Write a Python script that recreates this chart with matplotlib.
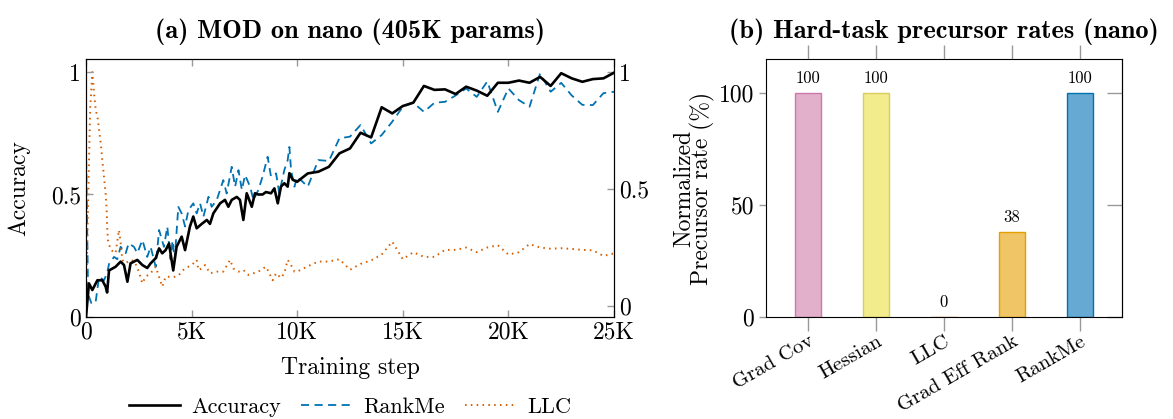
import matplotlib
matplotlib.use("Agg")
import matplotlib.pyplot as plt
from matplotlib.lines import Line2D

plt.rcParams['font.family'] = 'cmr10'
plt.rcParams['mathtext.fontset'] = 'cm'
plt.rcParams['axes.unicode_minus'] = False

# ---- data: panel (a) ----
acc_steps = [0, 140, 300, 540, 770, 930, 1000, 1090, 1400, 1640, 1800, 1960, 2110, 2430,
             2670, 2900, 3060, 3300, 3460, 3610, 3770, 3930, 4130, 4290, 4530, 4690, 4920,
             5080, 5240, 5480, 5720, 5870, 6030, 6350, 6580, 6740, 6900, 7140, 7290, 7450,
             7610, 7850, 8000, 8160, 8360, 8520, 8760, 8920, 9080, 9230, 9390, 9550, 9630,
             9790, 10000, 10500, 11000, 11500, 12000, 12500, 13000, 13500, 14000, 14500,
             15000, 15500, 16000, 16500, 17000, 17500, 18000, 18500, 19000, 19500, 20000,
             20500, 21000, 21500, 22000, 22500, 23000, 23500, 24000, 24500, 25000]
accuracy = [0.00, 0.137, 0.11, 0.15, 0.15, 0.124, 0.10, 0.19, 0.205, 0.226, 0.212, 0.144,
            0.219, 0.233, 0.212, 0.20, 0.219, 0.24, 0.28, 0.26, 0.273, 0.30, 0.19, 0.287,
            0.328, 0.273, 0.369, 0.41, 0.362, 0.38, 0.396, 0.38, 0.423, 0.464, 0.478, 0.45,
            0.478, 0.49, 0.478, 0.396, 0.505, 0.45, 0.505, 0.50, 0.50, 0.51, 0.505, 0.525,
            0.464, 0.532, 0.546, 0.532, 0.587, 0.56, 0.552, 0.586, 0.593, 0.613, 0.668,
            0.688, 0.752, 0.733, 0.856, 0.831, 0.861, 0.875, 0.943, 0.927, 0.929, 0.91,
            0.94, 0.924, 0.903, 0.956, 0.956, 0.965, 0.956, 0.98, 0.943, 0.995, 0.974,
            0.96, 0.971, 0.974, 0.997]

rm_steps = [0, 100, 250, 450, 620, 850, 1000, 1090, 1330, 1480, 1640, 1880, 2020, 2270,
            2430, 2670, 2900, 3060, 3300, 3460, 3690, 3850, 4000, 4100, 4200, 4370, 4530,
            4690, 4850, 5080, 5240, 5400, 5560, 5800, 5950, 6190, 6500, 6660, 6900, 7060,
            7220, 7380, 7530, 7770, 7930, 8160, 8360, 8600, 8760, 9000, 9150, 9390, 9550,
            9630, 9710, 9870, 10000, 10500, 11000, 11500, 12000, 12500, 13000, 13500,
            14000, 14500, 15000, 15500, 16000, 16500, 17000, 17500, 18000, 18500, 19000,
            19500, 20000, 20500, 21000, 21500, 22000, 22500, 23000, 23500, 24000, 24500,
            25000]
rankme = [0.68, 0.05, 0.013, 0.013, 0.125, 0.11, 0.14, 0.18, 0.21, 0.20, 0.253, 0.226,
          0.268, 0.253, 0.226, 0.282, 0.21, 0.253, 0.168, 0.325, 0.253, 0.339, 0.20, 0.28,
          0.20, 0.424, 0.396, 0.34, 0.41, 0.439, 0.396, 0.439, 0.382, 0.467, 0.424, 0.453,
          0.538, 0.481, 0.595, 0.51, 0.581, 0.496, 0.56, 0.51, 0.453, 0.496, 0.553, 0.638,
          0.553, 0.567, 0.482, 0.581, 0.624, 0.68, 0.581, 0.51, 0.553, 0.51, 0.624, 0.62,
          0.717, 0.724, 0.774, 0.695, 0.731, 0.788, 0.852, 0.869, 0.83, 0.869, 0.873, 0.90,
          0.93, 0.894, 0.96, 0.83, 0.93, 0.88, 0.852, 0.994, 0.916, 0.954, 0.90, 0.86,
          0.859, 0.91, 0.916]

llc_steps = [0, 100, 200, 300, 380, 460, 540, 620, 700, 770, 850, 930, 980, 1000, 1040,
             1170, 1400, 1560, 1640, 1720, 1880, 2110, 2300, 2500, 2670, 2820, 3060, 3300,
             3610, 3770, 4200, 4370, 4610, 4850, 5080, 5240, 5320, 5480, 5640, 5870, 6190,
             6500, 6820, 6980, 7220, 7450, 7690, 7930, 8160, 8520, 8680, 8840, 9000, 9230,
             9390, 9550, 9710, 9870, 10000, 10500, 11000, 11500, 12000, 12500, 13000,
             13500, 14000, 14500, 15000, 15500, 16000, 16500, 17000, 17500, 18000, 18500,
             19000, 19500, 20000, 20500, 21000, 21500, 22000, 22500, 23000, 23500, 24000,
             24500, 25000]
llc = [0.0, 0.45, 0.85, 1.0, 0.909, 0.838, 0.81, 0.752, 0.695, 0.624, 0.553, 0.48, 0.41,
       0.339, 0.282, 0.24, 0.226, 0.325, 0.27, 0.197, 0.183, 0.197, 0.19, 0.147, 0.097,
       0.125, 0.14, 0.168, 0.083, 0.125, 0.125, 0.13, 0.154, 0.168, 0.182, 0.197, 0.154,
       0.16, 0.175, 0.14, 0.147, 0.147, 0.197, 0.16, 0.147, 0.154, 0.133, 0.14, 0.147,
       0.168, 0.14, 0.11, 0.14, 0.12, 0.14, 0.197, 0.175, 0.147, 0.147, 0.17, 0.19, 0.19,
       0.2, 0.155, 0.18, 0.195, 0.22, 0.275, 0.20, 0.23, 0.21, 0.21, 0.24, 0.24, 0.25,
       0.23, 0.25, 0.26, 0.22, 0.23, 0.265, 0.25, 0.245, 0.247, 0.244, 0.24, 0.238,
       0.214, 0.225]

# ---- data: panel (b) ----
methods = ['Grad Cov', 'Hessian', 'LLC', 'Grad Eff Rank', 'RankMe']
rates = [100, 100, 0, 38, 100]
fill_colors = ['#e2b0ca', '#f3ec8d', '#eaa066', '#efc566', '#66a9d2']
edge_colors = ['#cc79a7', '#d8cc5c', '#d55e00', '#e69f00', '#0072b2']

FS = 17
fig = plt.figure(figsize=(11.73, 4.19), dpi=100)
W, H = 1173, 419

# panel (a)
ax = fig.add_axes([86 / W, (H - 317) / H, 528 / W, 258 / H])
ax2 = ax.twinx()
ax.set_zorder(ax2.get_zorder() + 1)
ax.patch.set_visible(False)

ax2.plot(rm_steps, rankme, color='#0072b2', lw=1.3, dashes=(4.5, 3))
ax2.plot(llc_steps, llc, color='#d55e00', lw=1.4, dashes=(0.8, 2.2))
ax.plot(acc_steps, accuracy, color='black', lw=1.9)

ax.set_xlim(0, 25000)
ax.set_ylim(0, 1.053)
ax2.set_ylim(-0.047, 1.056)
ax.set_xticks([0, 5000, 10000, 15000, 20000, 25000])
ax.set_xticklabels(['0', '5K', '10K', '15K', '20K', '25K'])
ax.set_yticks([0, 0.5, 1])
ax.set_yticklabels(['0', '0.5', '1'])
ax2.set_yticks([0, 0.5, 1])
ax2.set_yticklabels(['0', '0.5', '1'])
ax.tick_params(axis='both', direction='in', length=5, color='#999999', labelsize=FS,
               top=True, width=1)
ax.tick_params(axis='x', pad=3)
ax2.tick_params(axis='y', direction='in', length=5, color='#999999', labelsize=FS, width=1)
ax.set_xlabel('Training step', fontsize=FS, labelpad=10)
ax.set_ylabel('Accuracy', fontsize=FS, labelpad=15)
ax.set_title('(a) MOD on nano (405K params)', fontsize=19, family='cmb10', pad=15)

handles = [Line2D([], [], color='black', lw=1.9),
           Line2D([], [], color='#0072b2', lw=1.3, dashes=(4.5, 3)),
           Line2D([], [], color='#d55e00', lw=1.4, dashes=(0.8, 2.2))]
fig.legend(handles, ['Accuracy', 'RankMe', 'LLC'], loc='center', ncol=3,
           bbox_to_anchor=(350 / W, 1 - 407 / H), frameon=False, fontsize=16,
           handlelength=2.3, columnspacing=0.9, handletextpad=0.5, borderpad=0.1)

# panel (b)
bx = fig.add_axes([766 / W, (H - 317) / H, 356 / W, 258 / H])
xpos = list(range(len(methods)))
bx.bar(xpos, rates, width=0.39, color=fill_colors, edgecolor=edge_colors, linewidth=1.0,
       zorder=2)
for x, v in zip(xpos, rates):
    bx.text(x, v + 3, str(v), ha='center', va='bottom', fontsize=12)
bx.set_xlim(-0.62, 4.62)
bx.set_ylim(0, 115)
bx.set_xticks(xpos)
bx.set_xticklabels(methods, rotation=30, ha='right', rotation_mode='anchor', fontsize=15)
bx.set_yticks([0, 50, 100])
bx.tick_params(axis='x', direction='out', length=10, color='#999999', top=True, width=1,
               pad=1)
bx.tick_params(axis='y', direction='out', length=5, color='#999999', labelsize=FS, width=1)
sec = bx.secondary_yaxis('right')
sec.set_yticks([0, 50, 100])
sec.tick_params(direction='in', length=11, color='#999999', labelright=False, width=1)
bx.set_ylabel('Normalized\nPrecursor rate (%)', fontsize=FS, linespacing=0.7, labelpad=3)
bx.set_title('(b) Hard-task precursor rates (nano)', fontsize=19, family='cmb10', pad=15)

fig.savefig('out.png', dpi=100)
